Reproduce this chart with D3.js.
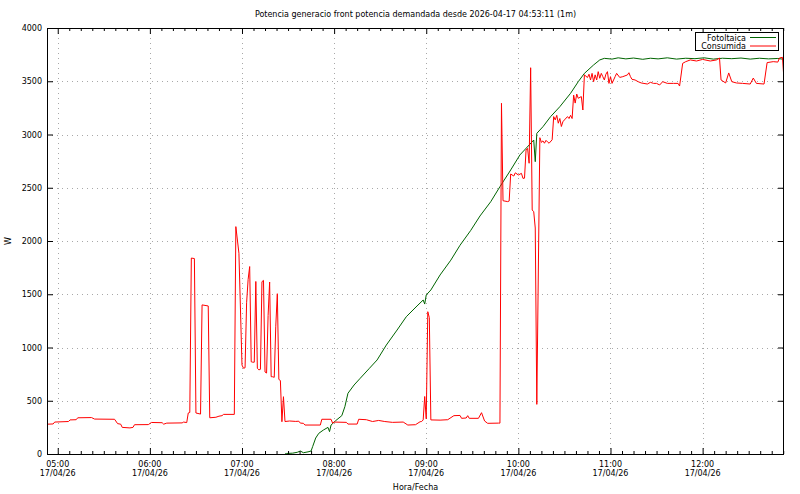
<!DOCTYPE html>
<html>
<head>
<meta charset="utf-8">
<script src="https://cdn.jsdelivr.net/npm/d3@7"></script>
<style>
  html, body { margin: 0; padding: 0; background: #fff; }
  svg { display: block; }
  text { font-family: "DejaVu Sans", sans-serif; font-size: 8px; fill: #000; }
</style>
</head>
<body>
<svg id="chart" width="800" height="494"></svg>
<script>
// ---------- DATA ----------
const chartTitle = "Potencia generacio front potencia demandada desde 2026-04-17 04:53:11 (1m)";
const xLabel = "Hora/Fecha";
const yLabel = "W";
const dateStr = "2026-04-17";
const startTime = "04:53";
const endTime = "12:53";
const yTicks = [0, 500, 1000, 1500, 2000, 2500, 3000, 3500, 4000];
const xTickTimes = ["05:00", "06:00", "07:00", "08:00", "09:00", "10:00", "11:00", "12:00"];
const xTickDate = "17/04/26";
const seriesNames = ["Fotoltaica", "Consumida"];
const seriesColors = ["#006400", "#ff0000"];

// Fotoltaica (generation)
const fotoTimes = ["07:28","07:29","07:33","07:36","07:38","07:40","07:43","07:45","07:46","07:48","07:50","07:53","07:56","07:57","07:58",
  "08:01","08:05","08:07","08:09","08:13","08:17","08:23","08:28","08:34","08:41","08:47","08:54","08:58","08:59","09:00","09:03","09:09",
  "09:16","09:22","09:29","09:35","09:42","09:48","09:55","10:01","10:07","10:10","10:11","10:12","10:16","10:21","10:27","10:34","10:39",
  "10:43","10:49","10:53","10:56","11:01","11:05","11:10","11:15","11:21","11:26","11:31","11:37","11:43","11:49","11:55","12:01","12:07",
  "12:13","12:19","12:25","12:31","12:37","12:43","12:49","12:53"];
const fotoValues = [0,5,8,16,28,12,20,28,69,150,194,225,250,210,272,
  313,360,444,570,648,711,805,883,1023,1164,1289,1390,1446,1408,1493,1540,1681,
  1820,1960,2100,2235,2369,2510,2667,2808,2901,2948,2745,3011,3073,3168,3261,3387,3496,
  3574,3653,3700,3715,3708,3720,3710,3718,3706,3716,3710,3720,3708,3716,3712,3720,3708,
  3716,3712,3718,3708,3716,3710,3714,3706];

// Consumida (demand)
const consTimes = ["04:53","04:57","04:58","05:07","05:08","05:12","05:13","05:22","05:24","05:37","05:39","05:41","05:42","05:47","05:49","05:50",
  "05:59","06:01","06:08","06:09","06:11","06:21","06:22","06:24","06:25","06:26","06:27","06:29","06:30","06:33","06:34","06:38","06:39",
  "06:43","06:45","06:47","06:48","06:55","06:56","06:58","07:00","07:01","07:02","07:03","07:04","07:05","07:06","07:07","07:08","07:09",
  "07:10","07:11","07:12","07:13","07:14","07:15","07:16","07:17","07:18","07:19","07:20","07:21","07:22","07:23","07:24","07:25","07:26",
  "07:27","07:28","07:31","07:35","07:37","07:38","07:40","07:41","07:51","07:52","07:58","07:59","08:00","08:08","08:09","08:15","08:16",
  "08:21","08:25","08:29","08:33","08:38","08:45","08:48","08:53","08:56","08:57","08:58","08:59","09:00","09:01","09:02","09:03","09:09",
  "09:14","09:18","09:22","09:23","09:26","09:27","09:28","09:34","09:36","09:38","09:40","09:47","09:48","09:49","09:50","09:53","09:54",
  "09:55","09:57","09:58","10:00","10:02","10:03","10:04","10:05","10:06","10:07","10:08","10:09","10:10","10:11","10:12","10:14","10:15",
  "10:16","10:17","10:18","10:19","10:20","10:22","10:23","10:24","10:25","10:26","10:27","10:28","10:29","10:30","10:32","10:33","10:34",
  "10:35","10:36","10:37","10:38","10:39","10:41","10:42","10:43","10:45","10:46","10:47","10:48","10:49","10:50","10:51","10:52","10:53",
  "10:54","10:55","10:56","10:57","10:58","10:59","11:00","11:01","11:03","11:04","11:06","11:08","11:11","11:12","11:13","11:14","11:16",
  "11:18","11:20","11:24","11:26","11:28","11:30","11:32","11:34","11:37","11:41","11:44","11:45","11:47","11:49","11:52","11:56","12:00",
  "12:05","12:09","12:11","12:12","12:15","12:17","12:19","12:22","12:26","12:31","12:33","12:35","12:40","12:42","12:46","12:49","12:50",
  "12:52","12:53"];
const consValues = [280,282,300,305,320,322,340,342,328,326,285,280,250,245,250,275,
  276,296,294,280,290,292,300,295,385,390,1840,1835,385,375,1400,1390,340,
  345,355,360,372,372,2135,1885,835,805,810,1420,1640,1760,866,862,862,1620,
  805,790,795,1618,1630,770,760,1300,1615,726,725,720,1200,1505,700,690,303,
  538,305,310,306,308,290,288,272,272,326,326,290,300,297,281,281,326,
  322,305,315,305,297,300,272,275,303,305,320,540,330,1336,1280,320,318,
  322,360,362,335,338,360,335,335,388,310,288,290,290,3293,2378,2370,2375,
  2629,2610,2640,2620,2635,2588,2590,2855,2870,2730,3627,2291,2275,2122,466,2970,2926,
  2940,2918,2945,2930,2918,2950,3168,3137,3180,3106,3150,3075,3120,3137,3168,3150,3180,
  3150,3370,3295,3380,3340,3356,3230,3560,3535,3566,3512,3574,3496,3560,3512,3590,3528,
  3574,3543,3512,3566,3590,3480,3543,3480,3543,3574,3536,3543,3559,3580,3543,3518,3512,
  3496,3484,3474,3490,3480,3480,3465,3496,3480,3480,3480,3455,3668,3684,3700,3690,3705,
  3690,3700,3718,3512,3484,3578,3496,3484,3480,3474,3530,3480,3474,3675,3684,3680,3718,
  3725,3512];

// ---------- LAYOUT ----------
const W = 800, H = 494;
const plot = { left: 47, right: 784, top: 28, bottom: 454 };
const parse = d3.timeParse("%Y-%m-%d %H:%M");
const t = s => parse(dateStr + " " + s);

const x = d3.scaleTime().domain([t(startTime), t(endTime)]).range([plot.left, plot.right]);
const y = d3.scaleLinear().domain([0, 4000]).range([plot.bottom, plot.top]);

const svg = d3.select("#chart");
svg.append("rect").attr("width", W).attr("height", H).attr("fill", "#fff");

// grid
const grid = svg.append("g").attr("stroke", "#a8a8a8").attr("stroke-width", 1).attr("stroke-dasharray", "1,4").attr("shape-rendering", "crispEdges");
xTickTimes.forEach(s => {
  const xx = Math.round(x(t(s))) + 0.5;
  grid.append("line").attr("x1", xx).attr("x2", xx).attr("y1", plot.top).attr("y2", plot.bottom);
});
yTicks.filter(v => v > 0 && v < 4000).forEach(v => {
  const yy = Math.round(y(v)) + 0.5;
  grid.append("line").attr("x1", plot.left).attr("x2", plot.right).attr("y1", yy).attr("y2", yy);
});

// series
const line = d3.line().x(d => x(d[0])).y(d => y(d[1]));
const fotoData = fotoTimes.map((s, i) => [t(s), fotoValues[i]]);
const consData = consTimes.map((s, i) => [t(s), consValues[i]]);
const clip = svg.append("clipPath").attr("id", "clip").append("rect")
  .attr("x", plot.left).attr("y", plot.top).attr("width", plot.right - plot.left).attr("height", plot.bottom - plot.top);
const series = svg.append("g").attr("clip-path", "url(#clip)");
series.append("path").datum(fotoData).attr("d", line).attr("fill", "none").attr("stroke", seriesColors[0]).attr("stroke-width", 1);
series.append("path").datum(consData).attr("d", line).attr("fill", "none").attr("stroke", seriesColors[1]).attr("stroke-width", 1);

// axes via d3 axis generators (ticks drawn inward)
const majorLen = 6, minorLen = 3;
const xAxisBottom = d3.axisBottom(x).tickValues(xTickTimes.map(t)).tickSize(-majorLen).tickFormat("");
const xAxisTop = d3.axisTop(x).tickValues(xTickTimes.map(t)).tickSize(-majorLen).tickFormat("");
// minor ticks every 7.5 minutes
const minorVals = [];
const st = t(startTime).getTime(), en = t(endTime).getTime();
const firstMajor = t(xTickTimes[0]).getTime();
for (let ms = firstMajor - 7.5 * 60000; ms >= st; ms -= 7.5 * 60000) minorVals.push(new Date(ms));
for (let ms = firstMajor; ms <= en; ms += 7.5 * 60000) {
  if (((ms - firstMajor) / 60000) % 60 !== 0) minorVals.push(new Date(ms));
}
const xMinorBottom = d3.axisBottom(x).tickValues(minorVals).tickSize(-minorLen).tickFormat("");
const xMinorTop = d3.axisTop(x).tickValues(minorVals).tickSize(-minorLen).tickFormat("");
const yAxisLeft = d3.axisLeft(y).tickValues(yTicks).tickSize(-majorLen).tickFormat("");
const yAxisRight = d3.axisRight(y).tickValues(yTicks).tickSize(-majorLen).tickFormat("");

function styleAxis(g) {
  g.select(".domain").remove();
  g.selectAll("line").attr("stroke", "#000").attr("stroke-width", 1);
}
svg.append("g").attr("transform", `translate(0,${plot.bottom})`).call(xAxisBottom).call(styleAxis);
svg.append("g").attr("transform", `translate(0,${plot.top})`).call(xAxisTop).call(styleAxis);
svg.append("g").attr("transform", `translate(0,${plot.bottom})`).call(xMinorBottom).call(styleAxis);
svg.append("g").attr("transform", `translate(0,${plot.top})`).call(xMinorTop).call(styleAxis);
svg.append("g").attr("transform", `translate(${plot.left},0)`).call(yAxisLeft).call(styleAxis);
svg.append("g").attr("transform", `translate(${plot.right},0)`).call(yAxisRight).call(styleAxis);

// border
svg.append("rect").attr("x", plot.left + 0.5).attr("y", plot.top + 0.5)
  .attr("width", plot.right - plot.left - 1).attr("height", plot.bottom - plot.top)
  .attr("fill", "none").attr("stroke", "#000").attr("stroke-width", 1);

// tick labels
const xl = svg.append("g").attr("text-anchor", "middle");
xTickTimes.forEach(s => {
  const xx = x(t(s));
  xl.append("text").attr("x", xx).attr("y", 466.5).text(s);
  xl.append("text").attr("x", xx).attr("y", 475.5).text(xTickDate);
});
const yl = svg.append("g").attr("text-anchor", "end");
yTicks.forEach(v => {
  yl.append("text").attr("x", 42).attr("y", y(v) + 3).text(v);
});

// titles
svg.append("text").attr("x", (plot.left + plot.right) / 2).attr("y", 17).attr("text-anchor", "middle").text(chartTitle);
svg.append("text").attr("x", (plot.left + plot.right) / 2).attr("y", 490).attr("text-anchor", "middle").text(xLabel);
svg.append("text").attr("transform", "translate(11,241) rotate(-90)").attr("text-anchor", "middle").text(yLabel);

// legend
const lg = svg.append("g");
lg.append("rect").attr("x", 695.5).attr("y", 32.5).attr("width", 83).attr("height", 18)
  .attr("fill", "#fff").attr("stroke", "#000").attr("stroke-width", 1);
seriesNames.forEach((n, i) => {
  const yy = 37.5 + i * 8.5;
  lg.append("text").attr("x", 746).attr("y", yy + 3).attr("text-anchor", "end").text(n);
  lg.append("line").attr("x1", 750).attr("x2", 776).attr("y1", yy).attr("y2", yy)
    .attr("stroke", seriesColors[i]).attr("stroke-width", 1);
});
</script>
</body>
</html>
